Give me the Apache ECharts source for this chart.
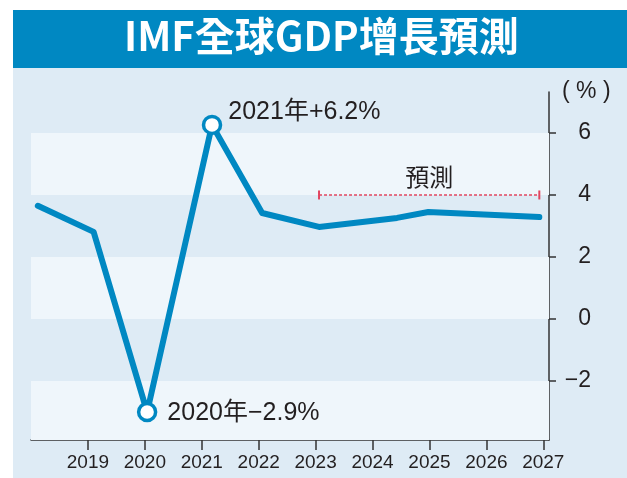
<!DOCTYPE html>
<html>
<head>
<meta charset="utf-8">
<script src="https://cdn.jsdelivr.net/npm/echarts@6/dist/echarts.min.js"></script>
<style>
  html, body { margin: 0; padding: 0; background: #fff; }
  #chart { width: 627px; height: 478px; }
</style>
</head>
<body>
<div id="chart"></div>
<script>
"use strict";
// line corners (x in years, y in %)
const lineYears = [2018.12, 2019.1, 2020.04, 2021.18, 2022.06, 2023.06, 2024.43, 2024.98, 2026.93];
const growth = [3.65, 2.81, -3.0, 6.26, 3.42, 2.97, 3.26, 3.45, 3.29];

// tick labels
const tickYears = [2019, 2020, 2021, 2022, 2023, 2024, 2025, 2026, 2027];
const yTicks = [-2, 0, 2, 4, 6];

// callouts on the 2020 low and the 2021 peak
const calloutIdx = [2, 3];
const calloutText = ['2020年−2.9%', '2021年+6.2%'];

// forecast span
const forecastSpan = [2023.06, 2026.93];
const forecastLevel = 4;
const forecastText = '預測';

// value range of the plot and its lighter bands
const yMin = -3.9;
const yMax = 7.32;
const bands = [[yMin, -2], [0, 2], [4, 6]];

const BLUE = '#0088c2';
const PANEL = '#deebf5';
const BAND = '#eff6fb';
const INK = '#231f20';

const minus = v => String(v).replace('-', '\u2212');

const lineData = lineYears.map((x, i) => {
  const k = calloutIdx.indexOf(i);
  const item = { value: [x, growth[i]] };
  if (k !== -1) {
    item.symbolSize = 17;
    item.label = {
      show: true,
      position: 'right',
      distance: 5,
      formatter: calloutText[k],
      offset: k === 0 ? [5, 1] : [1, -13]
    };
  } else {
    item.symbolSize = 0;
  }
  return item;
});

const myChart = echarts.init(document.getElementById('chart'));

const option = {
  animation: false,
  graphic: [
    { type: 'rect', z: -10, shape: { x: 13, y: 10, width: 614, height: 58 }, style: { fill: BLUE } },
    { type: 'rect', z: -10, shape: { x: 13, y: 68, width: 614, height: 410 }, style: { fill: PANEL } }
  ],
  title: {
    text: 'IMF全球GDP增長預測',
    left: 124,
    top: 16,
    padding: 0,
    textStyle: {
      color: '#fff',
      fontSize: 40,
      fontWeight: 'bold',
      fontFamily: '"Noto Sans CJK TC", sans-serif'
    }
  },
  grid: { left: 31, right: 78, top: 92, bottom: 38 },
  xAxis: {
    type: 'value',
    min: 2018,
    max: 2027.1,
    axisLine: { show: true, onZero: false, lineStyle: { color: '#333', width: 1.5 } },
    axisTick: { show: true, customValues: tickYears, length: 10, lineStyle: { color: '#333', width: 1.5 } },
    axisLabel: {
      customValues: tickYears,
      margin: 13,
      color: INK,
      fontSize: 19,
      fontFamily: '"Liberation Sans", Arial, sans-serif',
      formatter: v => String(v)
    },
    splitLine: { show: false }
  },
  yAxis: {
    type: 'value',
    position: 'right',
    min: yMin,
    max: yMax,
    name: '( % )',
    nameLocation: 'end',
    nameGap: 0,
    nameTextStyle: {
      align: 'left',
      verticalAlign: 'middle',
      padding: [0, 0, 0, 13],
      color: INK,
      fontSize: 23,
      fontFamily: '"Liberation Sans", Arial, sans-serif'
    },
    axisLine: { show: true, lineStyle: { color: '#333', width: 1.5 } },
    axisTick: { show: true, customValues: yTicks, length: 7, lineStyle: { color: '#333', width: 1.5 } },
    axisLabel: {
      customValues: yTicks,
      align: 'right',
      margin: 42,
      color: INK,
      fontSize: 23,
      fontFamily: '"Liberation Sans", Arial, sans-serif',
      formatter: minus
    },
    splitLine: { show: false }
  },
  series: [
    {
      type: 'line',
      data: lineData,
      symbol: 'circle',
      showAllSymbol: true,
      z: 5,
      lineStyle: { color: BLUE, width: 6, cap: 'round', join: 'round' },
      itemStyle: { color: '#fff', borderColor: BLUE, borderWidth: 3.5 },
      label: {
        color: INK,
        fontSize: 25,
        fontFamily: '"Liberation Sans", Arial, "Noto Sans CJK TC", sans-serif'
      },
      markArea: {
        silent: true,
        itemStyle: { color: BAND },
        data: bands.map(b => [{ yAxis: b[0] }, { yAxis: b[1] }])
      },
      markLine: {
        silent: true,
        symbol: ['rect', 'rect'],
        symbolSize: [9, 2],
        itemStyle: { color: '#e2455f' },
        lineStyle: { color: '#e2455f', type: [3, 2], width: 1.5, opacity: 1 },
        label: {
          show: true,
          position: 'insideMiddleTop',
          distance: 6,
          formatter: forecastText,
          color: INK,
          fontSize: 24,
          fontFamily: '"Noto Sans CJK TC", sans-serif'
        },
        data: [[
          { coord: [forecastSpan[0], forecastLevel] },
          { coord: [forecastSpan[1], forecastLevel] }
        ]]
      }
    }
  ]
};

myChart.setOption(option);
</script>
</body>
</html>
